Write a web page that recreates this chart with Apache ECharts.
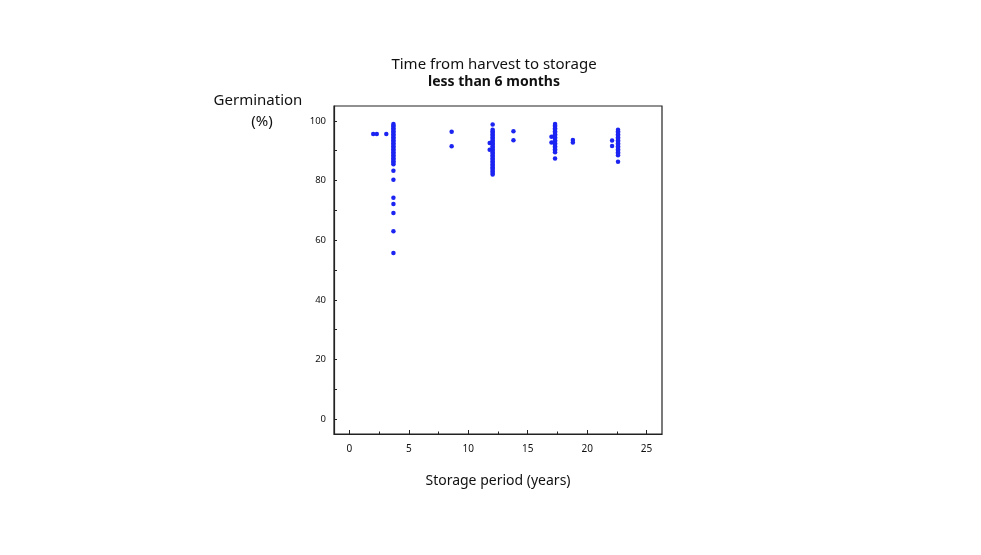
<!DOCTYPE html>
<html>
<head>
<meta charset="utf-8">
<script src="https://cdn.jsdelivr.net/npm/echarts@6/dist/echarts.min.js"></script>
<style>
  html, body { margin: 0; padding: 0; background: #fff; }
  #main { width: 981px; height: 555px; }
</style>
</head>
<body>
<div id="main"></div>
<script>
// 读图得到的数据：每组一个储存年限，对应若干发芽率
var years = [2.0, 2.3, 3.1, 3.7, 8.6, 11.8, 12.05, 13.8, 17.0, 17.3, 18.8, 22.1, 22.6];

var germ_2_0 = [95.6];
var germ_2_3 = [95.6];
var germ_3_1 = [95.6];
var germ_3_7 = [99, 98.5, 98, 97.5, 97, 96.5, 96, 95.5, 95, 94.5, 94, 93.5, 93, 92.5, 92,
    91.5, 91, 90.5, 90, 89.5, 89, 88.5, 88, 87.5, 87, 86.5, 86, 85.5,
    83.3, 80.3, 74.2, 72.1, 69.1, 63, 55.7];
var germ_8_6 = [96.4, 91.5];
var germ_11_8 = [92.6, 90.3];
var germ_12_05 = [98.8, 97, 96.5, 96, 95.5, 95, 94.5, 94, 93.5, 93, 92.5, 92, 91.5, 91, 90.5,
    90, 89.5, 89, 88.5, 88, 87.5, 87, 86.5, 86, 85.5, 85, 84.5, 84, 83.5, 83, 82.5, 82];
var germ_13_8 = [96.5, 93.5];
var germ_17_0 = [94.7, 92.8];
var germ_17_3 = [99, 98.5, 98, 97.5, 97, 96.5, 96, 95.5, 95, 94.5, 94, 93.5, 93, 92.5, 92,
    91.5, 91, 90.5, 90, 89.5, 87.4];
var germ_18_8 = [93.6, 92.8];
var germ_22_1 = [93.4, 91.6];
var germ_22_6 = [97, 96.5, 96, 95.5, 95, 94.5, 94, 93.5, 93, 92.5, 92, 91.5, 91, 90.5, 90,
    89.5, 89, 88.5, 86.3];

var groups = [germ_2_0, germ_2_3, germ_3_1, germ_3_7, germ_8_6, germ_11_8, germ_12_05,
    germ_13_8, germ_17_0, germ_17_3, germ_18_8, germ_22_1, germ_22_6];

var xLabels = [0, 5, 10, 15, 20, 25];
var xTicks = [0, 2.5, 5, 7.5, 10, 12.5, 15, 17.5, 20, 22.5, 25];
var yLabels = [0, 20, 40, 60, 80, 100];
var yTicks = [0, 10, 20, 30, 40, 50, 60, 70, 80, 90, 100];

// 组装散点
var points = [];
groups.forEach(function (vals, i) {
    vals.forEach(function (v) {
        points.push([years[i], v]);
    });
});

var chart = echarts.init(document.getElementById('main'));
var font = 'Noto Sans';

chart.setOption({
    animation: false,
    backgroundColor: '#ffffff',
    title: {
        text: 'Time from harvest to storage',
        subtext: 'less than 6 months',
        left: 489,
        top: 52,
        textAlign: 'center',
        itemGap: 3,
        textStyle: { fontFamily: font, fontSize: 15, fontWeight: 'normal', color: '#111' },
        subtextStyle: { fontFamily: font, fontSize: 14, fontWeight: 'bold', color: '#111' }
    },
    // 纵轴名称（两行居中）
    graphic: [
        {
            type: 'text',
            x: 258,
            y: 101,
            style: { text: 'Germination', font: '15px "Noto Sans"', fill: '#111', align: 'center', verticalAlign: 'middle' }
        },
        {
            type: 'text',
            x: 262,
            y: 122,
            style: { text: '(%)', font: '15px "Noto Sans"', fill: '#111', align: 'center', verticalAlign: 'middle' }
        }
    ],
    grid: {
        left: 334,
        right: 319,
        top: 106,
        bottom: 121,
        show: true,
        borderColor: '#222',
        borderWidth: 1.2,
        backgroundColor: 'transparent'
    },
    xAxis: [
        {
            type: 'value',
            min: -1.3,
            max: 26.3,
            name: 'Storage period (years)',
            nameLocation: 'middle',
            nameGap: 40,
            nameTextStyle: { fontFamily: font, fontSize: 14, color: '#111' },
            axisLine: { show: true, onZero: false, lineStyle: { color: '#222', width: 1.2 } },
            splitLine: { show: false },
            axisTick: { show: true, inside: true, length: 4, customValues: xLabels, lineStyle: { color: '#222' } },
            axisLabel: { customValues: xLabels, fontFamily: font, fontSize: 10, color: '#111', margin: 10 }
        },
        {
            type: 'value',
            min: -1.3,
            max: 26.3,
            position: 'bottom',
            axisLine: { show: false, onZero: false },
            splitLine: { show: false },
            axisTick: { show: true, inside: true, length: 2.5, customValues: xTicks, lineStyle: { color: '#222' } },
            axisLabel: { show: false }
        }
    ],
    yAxis: {
        type: 'value',
        min: -5,
        max: 105,
        axisLine: { show: true, onZero: false, lineStyle: { color: '#222', width: 1.2 } },
        splitLine: { show: false },
        axisTick: { show: true, inside: true, length: 3, customValues: yTicks, lineStyle: { color: '#222' } },
        axisLabel: { customValues: yLabels, fontFamily: font, fontSize: 9.5, color: '#111', margin: 8 }
    },
    series: [
        {
            type: 'scatter',
            xAxisIndex: 0,
            symbol: 'circle',
            symbolSize: 4.5,
            itemStyle: { color: '#1c24f2', opacity: 1 },
            data: points
        }
    ]
});
</script>
</body>
</html>
